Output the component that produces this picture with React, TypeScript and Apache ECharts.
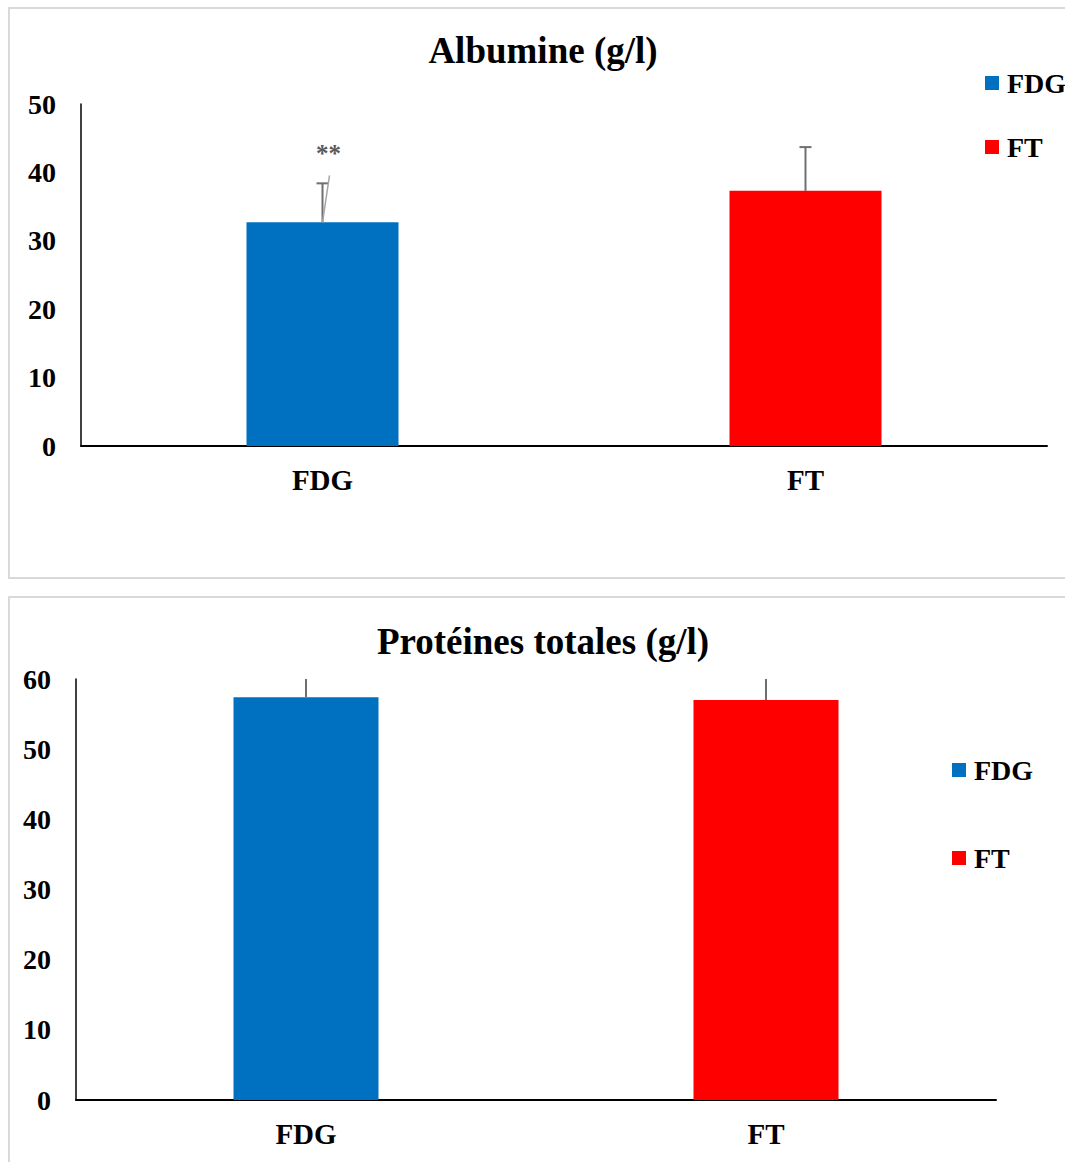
import React, { useEffect, useRef } from "react";
import * as echarts from "echarts";

const categories = ["FDG", "FT"];
const seriesColors = ["#0070C0", "#FF0000"];

const albTitle = "Albumine (g/l)";
const albValues = [32.7, 37.3];
const albErrors = [5.7, 6.4];
const albMarks = ["**", ""];
const albTicks = [0, 10, 20, 30, 40, 50];

const protTitle = "Protéines totales (g/l)";
const protValues = [57.4, 57.0];
const protErrors = [4.5, 4.5];
const protMarks = ["", ""];
const protTicks = [0, 10, 20, 30, 40, 50, 60];

const FONT = "'Liberation Serif', 'Times New Roman', serif";

function errorRender(marks: string[]) {
  return (params: any, api: any) => {
    const x = api.value(0);
    const v = api.value(1);
    const e = api.value(2);
    const base = api.coord([x, v]);
    const top = api.coord([x, v + e]);
    const stroke = { stroke: "#6f6f6f", lineWidth: 2 };
    const children: any[] = [
      { type: "line", shape: { x1: base[0], y1: base[1], x2: top[0], y2: top[1] }, style: stroke },
      { type: "line", shape: { x1: top[0] - 6, y1: top[1], x2: top[0] + 6, y2: top[1] }, style: stroke },
    ];
    const m = marks[params.dataIndex];
    if (m) {
      children.push({
        type: "line",
        shape: { x1: base[0], y1: base[1], x2: top[0] + 7, y2: top[1] - 8 },
        style: { stroke: "#a6a6a6", lineWidth: 1.5 },
      });
      children.push({
        type: "text",
        style: {
          text: m,
          x: top[0] + 6,
          y: top[1] - 30,
          align: "center",
          verticalAlign: "middle",
          fill: "#595959",
          font: "bold 25px " + FONT,
        },
      });
    }
    return { type: "group", children };
  };
}

function buildBarSeries(values: number[], gridIdx: number, barWidth: number) {
  return categories.map((name, i) => ({
    name,
    type: "bar",
    xAxisIndex: gridIdx,
    yAxisIndex: gridIdx,
    barWidth,
    barGap: "-100%",
    itemStyle: { color: seriesColors[i] },
    data: values.map((v, j) => (j === i ? v : "-")),
  }));
}

function buildErrorSeries(values: number[], errors: number[], marks: string[], gridIdx: number) {
  return {
    type: "custom",
    xAxisIndex: gridIdx,
    yAxisIndex: gridIdx,
    clip: true,
    z: 5,
    renderItem: errorRender(marks),
    encode: { x: 0, y: 1 },
    data: values.map((v, i) => [i, v, errors[i]]),
  };
}

export default function App() {
  const ref = useRef<HTMLDivElement>(null);
  useEffect(() => {
    const chart = echarts.init(ref.current!, null, { renderer: "svg" });
    const axisLabelStyle = { color: "#000", fontWeight: "bold", fontFamily: FONT };
    const legendText = { fontFamily: FONT, fontWeight: "bold", fontSize: 28, color: "#000", lineHeight: 30, padding: [0, 0, 0, 3] };
    chart.setOption({
      animation: false,
      backgroundColor: "#fff",
      title: [
        {
          text: albTitle,
          left: 543,
          textAlign: "center",
          top: 30,
          padding: 0,
          textStyle: { fontFamily: FONT, fontWeight: "bold", fontSize: 37, color: "#000", lineHeight: 40 },
        },
        {
          text: protTitle,
          left: 543,
          textAlign: "center",
          top: 621,
          padding: 0,
          textStyle: { fontFamily: FONT, fontWeight: "bold", fontSize: 37, color: "#000", lineHeight: 40 },
        },
      ],
      legend: [
        {
          data: categories,
          orient: "vertical",
          left: 985,
          top: 68,
          padding: 0,
          icon: "rect",
          itemWidth: 14,
          itemHeight: 14,
          itemGap: 34,
          textStyle: legendText,
        },
        {
          data: categories,
          orient: "vertical",
          left: 952,
          top: 755,
          padding: 0,
          icon: "rect",
          itemWidth: 14,
          itemHeight: 14,
          itemGap: 58,
          textStyle: legendText,
        },
      ],
      grid: [
        { left: 81, top: 104, width: 966, height: 342 },
        { left: 76, top: 679, width: 920, height: 421 },
      ],
      xAxis: [0, 1].map((g) => ({
        type: "category",
        gridIndex: g,
        data: categories,
        axisTick: { show: false },
        axisLine: { lineStyle: { color: "#000", width: 2 } },
        axisLabel: { ...axisLabelStyle, fontSize: 29, margin: 19 },
      })),
      yAxis: [
        { ticks: albTicks, g: 0 },
        { ticks: protTicks, g: 1 },
      ].map(({ ticks, g }) => ({
        type: "value",
        gridIndex: g,
        min: ticks[0],
        max: ticks[ticks.length - 1],
        interval: ticks[1] - ticks[0],
        splitLine: { show: false },
        axisTick: { show: false },
        axisLine: { show: true, lineStyle: { color: "#000", width: 1.5 } },
        axisLabel: { ...axisLabelStyle, fontSize: 28, margin: 25, padding: [0, 0, 3, 0] },
      })),
      series: [
        ...buildBarSeries(albValues, 0, 152),
        buildErrorSeries(albValues, albErrors, albMarks, 0),
        ...buildBarSeries(protValues, 1, 145),
        buildErrorSeries(protValues, protErrors, protMarks, 1),
      ],
      graphic: [
        { type: "rect", shape: { x: 9, y: 8, width: 1070, height: 570 }, style: { fill: "none", stroke: "#d9d9d9", lineWidth: 2 }, z: -1 },
        { type: "rect", shape: { x: 9, y: 597, width: 1070, height: 620 }, style: { fill: "none", stroke: "#d9d9d9", lineWidth: 2 }, z: -1 },
      ],
    });
    return () => chart.dispose();
  }, []);
  return (
    <div
      ref={ref}
      style={{ position: "absolute", left: 0, top: 0, width: 1065, height: 1162, background: "#fff" }}
    />
  );
}
